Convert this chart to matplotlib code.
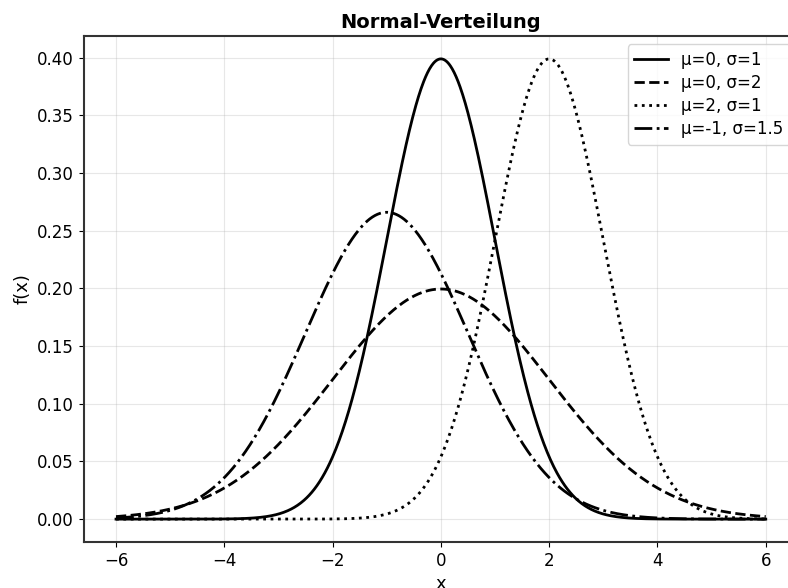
import numpy as np
import matplotlib
matplotlib.use("Agg")
import matplotlib.pyplot as plt

# Parameters of the plotted normal distributions
mus = [0, 0, 2, -1]
sigmas = [1, 2, 1, 1.5]
styles = ["-", "--", ":", "-."]
labels = ["μ=0, σ=1", "μ=0, σ=2", "μ=2, σ=1", "μ=-1, σ=1.5"]

x_min, x_max = -6, 6
x = np.linspace(x_min, x_max, 1000)


def normal_pdf(x, mu, sigma):
    return np.exp(-0.5 * ((x - mu) / sigma) ** 2) / (sigma * np.sqrt(2 * np.pi))


fig = plt.figure(figsize=(7.88, 5.88), dpi=100)
ax = fig.add_axes([0.106, 0.078, 0.907, 0.861])

for mu, sigma, ls, lab in zip(mus, sigmas, styles, labels):
    ax.plot(x, normal_pdf(x, mu, sigma), color="black", linestyle=ls,
            linewidth=2, label=lab)

ax.set_title("Normal-Verteilung", fontsize=14, fontweight="bold")
ax.set_xlabel("x", fontsize=13)
ax.set_ylabel("f(x)", fontsize=13)
ax.tick_params(labelsize=12)
ax.grid(True, alpha=0.3)
for sp in ax.spines.values():
    sp.set_color("#333333")
    sp.set_linewidth(1.5)
ax.legend(loc="upper right", fontsize=12, labelspacing=0.3)

fig.savefig("out.png", dpi=100)
